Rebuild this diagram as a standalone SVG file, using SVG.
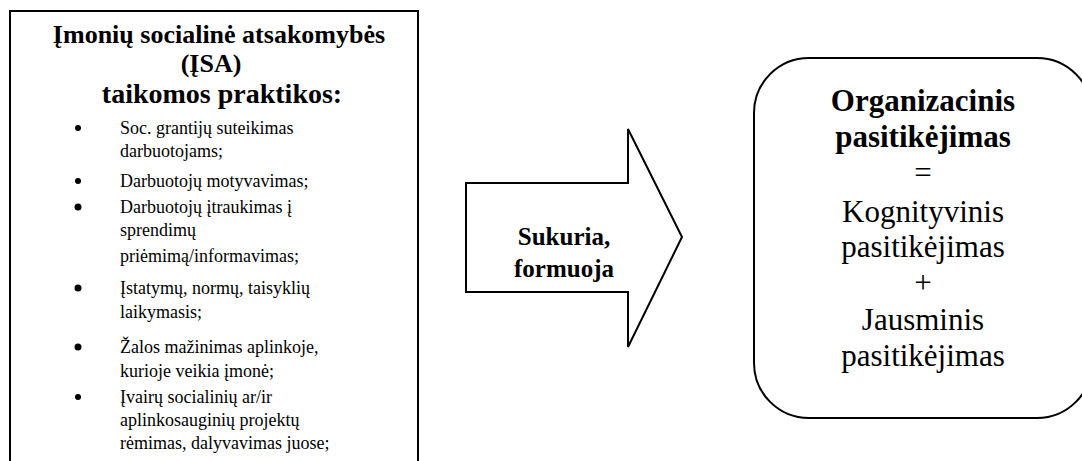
<svg xmlns="http://www.w3.org/2000/svg" width="1082" height="461" viewBox="0 0 1082 461">
<style>
.t{font-family:"Liberation Serif","Times New Roman",serif;fill:#000}
.b{font-weight:bold}
.title{font-size:26px;font-weight:bold;text-anchor:middle}
.item{font-size:18px}
.big{font-size:31px;text-anchor:middle}
.arr{font-size:25px;font-weight:bold;text-anchor:middle}
.shape{fill:#fff;stroke:#000;stroke-width:2}
</style>
<rect width="1082" height="461" fill="#fff"/>
<g id="isa-box">
<path class="shape" d="M10,470 V11 H418 V470"/>
<text class="t title" x="219" y="43">Įmonių socialinė atsakomybės</text>
<text class="t title" x="211" y="72">(ĮSA)</text>
<text class="t title" x="222" y="103" style="font-size:28px">taikomos praktikos:</text>
<g fill="#000">
<circle cx="78" cy="128" r="3"/>
<circle cx="78" cy="181" r="3"/>
<circle cx="78" cy="207" r="3.5"/>
<circle cx="78" cy="288" r="3.5"/>
<circle cx="78" cy="347" r="3.5"/>
<circle cx="78" cy="397" r="3"/>
</g>
<text class="t item" x="120" y="134">Soc. grantijų suteikimas</text>
<text class="t item" x="120" y="157">darbuotojams;</text>
<text class="t item" x="120" y="187">Darbuotojų motyvavimas;</text>
<text class="t item" x="120" y="213">Darbuotojų įtraukimas į</text>
<text class="t item" x="120" y="236">sprendimų</text>
<text class="t item" x="120" y="262">priėmimą/informavimas;</text>
<text class="t item" x="120" y="294">Įstatymų, normų, taisyklių</text>
<text class="t item" x="120" y="318">laikymasis;</text>
<text class="t item" x="120" y="353">Žalos mažinimas  aplinkoje,</text>
<text class="t item" x="120" y="377">kurioje veikia įmonė;</text>
<text class="t item" x="120" y="403">Įvairų socialinių ar/ir</text>
<text class="t item" x="120" y="426">aplinkosauginių projektų</text>
<text class="t item" x="120" y="449">rėmimas, dalyvavimas juose;</text>
</g>
<g id="connectors">
<g id="arrow">
<path class="shape" d="M466,183 H628 V129 L682,237 L628,347 V292 H466 Z"/>
<text class="t arr" x="564" y="245">Sukuria,</text>
<text class="t arr" x="564" y="277">formuoja</text>
</g>
</g>
<g id="trust-box">
<rect class="shape" x="754" y="58" width="338" height="360" rx="55" ry="55"/>
<text class="t big b" x="923" y="111">Organizacinis</text>
<text class="t big b" x="923" y="147">pasitikėjimas</text>
<text class="t big" x="923" y="183">=</text>
<text class="t big" x="923" y="222">Kognityvinis</text>
<text class="t big" x="923" y="257">pasitikėjimas</text>
<text class="t big" x="923" y="293">+</text>
<text class="t big" x="923" y="330">Jausminis</text>
<text class="t big" x="923" y="366">pasitikėjimas</text>
</g>
</svg>
